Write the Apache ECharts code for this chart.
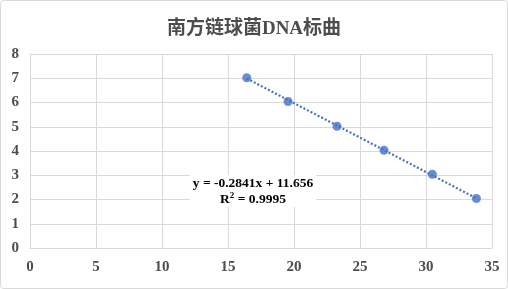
<!DOCTYPE html>
<html><head><meta charset="utf-8">
<script src="https://cdn.jsdelivr.net/npm/echarts@6/dist/echarts.min.js"></script>
<style>html,body{margin:0;padding:0;background:#fff}#c{width:508px;height:289px}</style>
</head><body><div id="c"></div>
<script>
const titleText = '南方链球菌DNA标曲';
const xValues = [16.42, 19.55, 23.26, 26.82, 30.48, 33.82];
const yValues = [7.02, 6.04, 5.02, 4.03, 3.04, 2.04];
const slope = -0.2841;
const intercept = 11.656;
const eqLine = 'y = -0.2841x + 11.656';
const r2Label = 'R';
const r2Sup = '2';
const r2Value = ' = 0.9995';

const pts = xValues.map((x, i) => [x, yValues[i]]);
const xMin = Math.min(...xValues), xMax = Math.max(...xValues);
const trend = [[xMin, slope * xMin + intercept], [xMax, slope * xMax + intercept]];

const serif = '"Liberation Serif","Times New Roman","Noto Sans CJK SC",serif';
const chart = echarts.init(document.getElementById('c'));
chart.setOption({
  backgroundColor: '#fff',
  animation: false,
  title: {
    text: titleText, left: 'center', top: 15,
    textStyle: {fontFamily: serif, fontWeight: 'bold', fontSize: 19, color: '#4d4d4d'}
  },
  grid: {left: 30, right: 16, top: 54, bottom: 41, containLabel: false},
  xAxis: {
    type: 'value', min: 0, max: 35, interval: 5,
    axisLine: {show: true, lineStyle: {color: '#d9d9d9'}},
    axisTick: {show: false},
    splitLine: {show: true, lineStyle: {color: '#d9d9d9'}},
    axisLabel: {fontFamily: serif, fontWeight: 'bold', fontSize: 15, color: '#4d4d4d', margin: 12}
  },
  yAxis: {
    type: 'value', min: 0, max: 8, interval: 1,
    axisLine: {show: true, lineStyle: {color: '#d9d9d9'}},
    axisTick: {show: false},
    splitLine: {show: true, lineStyle: {color: '#d9d9d9'}},
    axisLabel: {fontFamily: serif, fontWeight: 'bold', fontSize: 15, color: '#4d4d4d', margin: 11}
  },
  series: [
    {type: 'line', data: trend, symbol: 'none', silent: true,
     lineStyle: {color: '#4472C4', width: 2.2, type: [2, 2]}},
    {type: 'scatter', data: pts, symbol: 'circle', symbolSize: 9,
     itemStyle: {color: '#4472C4'}}
  ],
  graphic: [
    {type: 'rect', shape: {x: 0.5, y: 0.5, width: 507, height: 288, r: 3},
     style: {fill: 'none', stroke: '#d9d9d9', lineWidth: 1}, silent: true},
    {type: 'text', x: 253, y: 175, z: 100,
     style: {
       text: '{e|' + eqLine + '}\n{a|' + r2Label + '}{s|' + r2Sup + '}{a|' + r2Value + '}',
       align: 'center', verticalAlign: 'top',
       backgroundColor: '#ffffff', padding: [1, 3, 1, 3],
       rich: {
         e: {fontFamily: serif, fontWeight: 'bold', fontSize: 13.5, color: '#404040', lineHeight: 15, align: 'center'},
         a: {fontFamily: serif, fontWeight: 'bold', fontSize: 13.5, color: '#404040', lineHeight: 15, verticalAlign: 'bottom'},
         s: {fontFamily: serif, fontWeight: 'bold', fontSize: 9, color: '#404040', lineHeight: 15, verticalAlign: 'top'}
       }}}
  ]
});
</script></body></html>
